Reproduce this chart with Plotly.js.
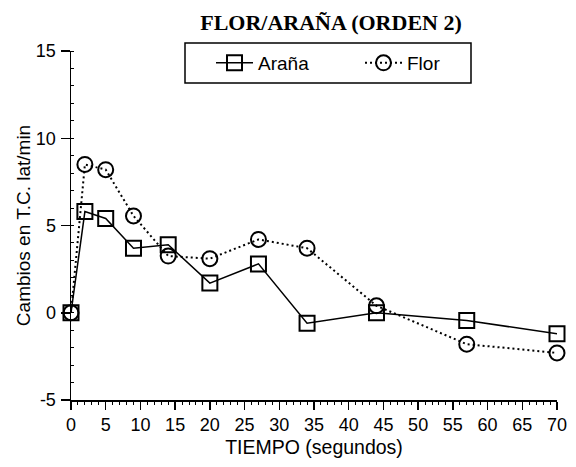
<!DOCTYPE html>
<html>
<head>
<meta charset="utf-8">
<script src="https://cdn.plot.ly/plotly-3.0.1.min.js"></script>
<style>html,body{margin:0;padding:0;background:#fff;}#chart{width:576px;height:467px;}</style>
</head>
<body>
<div id="chart"></div>
<script>
var tiempo = [0, 2, 5, 9, 14, 20, 27, 34, 44, 57, 70];
var arana = [0, 5.8, 5.4, 3.7, 3.9, 1.7, 2.8, -0.6, 0.0, -0.45, -1.2];
var flor = [0, 8.5, 8.2, 5.55, 3.25, 3.1, 4.2, 3.7, 0.4, -1.8, -2.3];
var seriesNames = ["Araña", "Flor"];
var xTicks = [0, 5, 10, 15, 20, 25, 30, 35, 40, 45, 50, 55, 60, 65, 70];
var yTicks = [-5, 0, 5, 10, 15];

var traces = [
  {
    x: tiempo, y: arana, name: seriesNames[0], type: "scatter", mode: "lines+markers",
    line: {color: "#000", width: 1.5},
    marker: {symbol: "square-open", size: 15, color: "#000", line: {color: "#000", width: 2}},
    cliponaxis: false
  },
  {
    x: tiempo, y: flor, name: seriesNames[1], type: "scatter", mode: "lines+markers",
    line: {color: "#000", width: 2, dash: "2px,3px"},
    marker: {symbol: "circle-open", size: 15, color: "#000", line: {color: "#000", width: 2}},
    cliponaxis: false
  }
];

var plotL = 71, plotW = 486, plotT = 51, plotH = 349;
function px(xp) { return (xp - plotL) / plotW; }
function py(yp) { return 1 - (yp - plotT) / plotH; }

var layout = {
  width: 576, height: 467,
  margin: {l: 71, r: 19, t: 51, b: 67},
  paper_bgcolor: "#fff", plot_bgcolor: "#fff",
  font: {family: "Liberation Sans, Arial, sans-serif", color: "#000", size: 18},
  title: {
    text: "<b>FLOR/ARAÑA (ORDEN 2)</b>",
    font: {family: "Liberation Serif, Times New Roman, serif", size: 22, color: "#000"},
    x: 331/576, xanchor: "center", xref: "container",
    y: 1 - 22/467, yanchor: "middle", yref: "container"
  },
  showlegend: true,
  legend: {
    orientation: "h",
    x: px(211), xanchor: "left",
    y: py(44), yanchor: "top",
    borderwidth: 0, bgcolor: "rgba(0,0,0,0)",
    font: {size: 19, color: "#000"},
    itemwidth: 37,
    entrywidth: 97, entrywidthmode: "pixels",
    automargin: false
  },
  shapes: [
    {type: "rect", xref: "paper", yref: "paper",
     x0: px(185), x1: px(471), y0: py(83), y1: py(43),
     line: {color: "#000", width: 1.5}, fillcolor: "rgba(0,0,0,0)", layer: "above"}
  ],
  xaxis: {
    range: [0, 70], tickvals: xTicks, ticktext: xTicks.map(String),
    showgrid: false, zeroline: false,
    showline: true, linecolor: "#000", linewidth: 1.5,
    ticks: "outside", ticklen: 8, tickwidth: 1.5, tickcolor: "#000",
    minor: {dtick: 1, ticks: "outside", ticklen: 3, tickwidth: 1, tickcolor: "#000", showgrid: false},
    title: {text: "TIEMPO (segundos)", font: {size: 19.5}, standoff: 6},
    tickfont: {size: 18},
    automargin: false
  },
  yaxis: {
    range: [-5, 15], tickvals: yTicks, ticktext: yTicks.map(String),
    showgrid: false, zeroline: false,
    showline: true, linecolor: "#000", linewidth: 1.5,
    ticks: "outside", ticklen: 9, tickwidth: 1.5, tickcolor: "#000",
    minor: {dtick: 1, ticks: "inside", ticklen: 3, tickwidth: 1, tickcolor: "#000", showgrid: false},
    ticklabelstandoff: 1,
    title: {text: "Cambios en T.C. lat/min", font: {size: 19}, standoff: 0},
    tickfont: {size: 18},
    automargin: false
  }
};

Plotly.newPlot("chart", traces, layout, {displayModeBar: false, staticPlot: true});
</script>
</body>
</html>
